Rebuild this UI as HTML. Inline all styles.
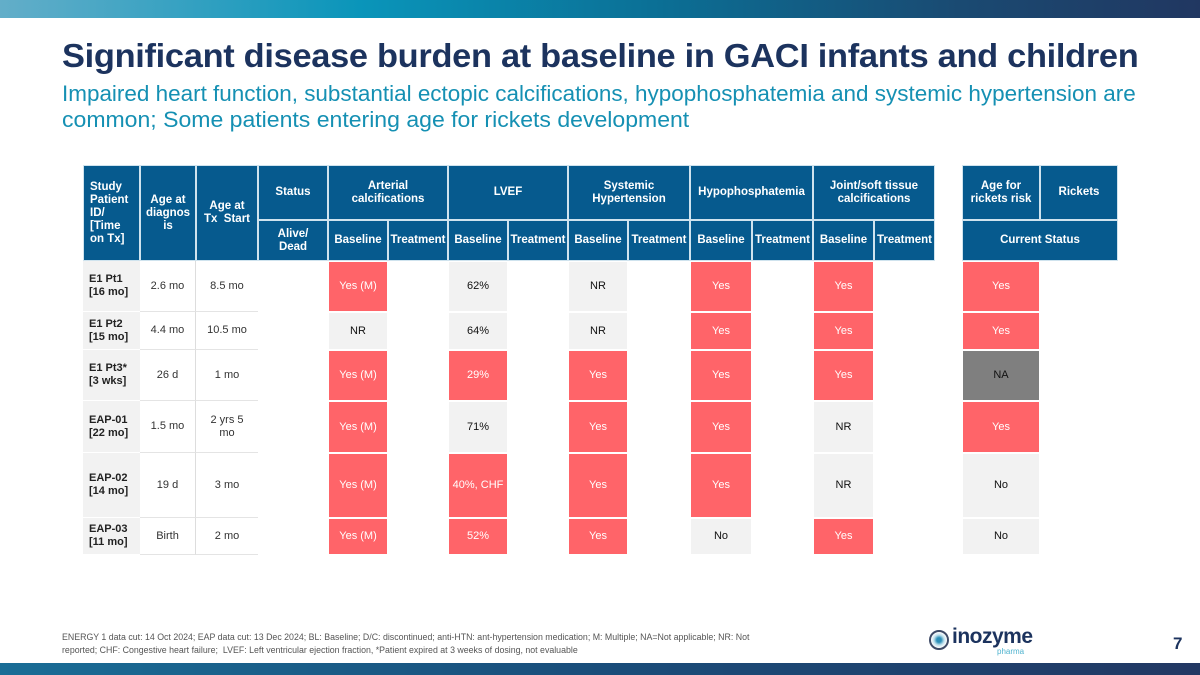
<!DOCTYPE html>
<html><head><meta charset="utf-8">
<style>
body{margin:0;width:1200px;height:675px;position:relative;overflow:hidden;background:#fff;font-family:"Liberation Sans",sans-serif}
.a{position:absolute}
.fit{white-space:nowrap;transform-origin:0 0}
.c{position:absolute;box-sizing:border-box;display:flex;align-items:center;justify-content:center;text-align:center;font-size:11px;line-height:13px}
.h{background:#065a8e;color:#fff;font-weight:bold;border:1px solid #cfe3ee;font-size:11.5px}
</style></head><body>
<div class="a" style="left:0;top:0;width:1200px;height:18px;background:linear-gradient(90deg,#63aec9 0%,#0a95ba 30%,#0b6f95 55%,#1a4a72 80%,#213761 100%)"></div>
<div class="a fit" id="title" style="left:62px;top:37px;font-size:33px;font-weight:900;color:#1c335e;letter-spacing:-0.3px">Significant disease burden at baseline in GACI infants and children</div>
<div class="a fit" id="sub1" style="left:62px;top:81px;font-size:22px;color:#1590b3">Impaired heart function, substantial ectopic calcifications, hypophosphatemia and systemic hypertension are</div>
<div class="a fit" id="sub2" style="left:62px;top:107px;font-size:22px;color:#1590b3">common; Some patients entering age for rickets development</div>
<div id="tbl"></div>
<div class="a" style="left:62px;top:631px;width:725px;font-size:8.8px;line-height:12.5px;color:#555">ENERGY 1 data cut: 14 Oct 2024; EAP data cut: 13 Dec 2024; BL: Baseline; D/C: discontinued; anti-HTN: ant-hypertension medication; M: Multiple; NA=Not applicable; NR: Not reported; CHF: Congestive heart failure;&nbsp; LVEF: Left ventricular ejection fraction, *Patient expired at 3 weeks of dosing, not evaluable</div>
<div class="a" style="left:929px;top:628px;width:120px;height:30px">
 <div class="a" style="left:0;top:2px;width:20px;height:20px;border-radius:50%;border:2px solid #3d4a66;box-sizing:border-box;background:radial-gradient(circle,#2c8fb8 20%,#bfe0ec 45%,#fff 70%)"></div>
 <div class="a" style="left:23px;top:-3px;font-size:21px;font-weight:bold;color:#1c335e;letter-spacing:-0.5px">inozyme</div>
 <div class="a" style="left:68px;top:19px;font-size:8px;color:#4fb3cf">pharma</div>
</div>
<div class="a" style="left:1173px;top:634px;font-size:17px;font-weight:bold;color:#1c335e">7</div>
<div class="a" style="left:0;top:663px;width:1200px;height:12px;background:linear-gradient(90deg,#1a6d96 0%,#1a4d7a 50%,#223863 100%)"></div>
<script>
const rowIds=["E1 Pt1<br>[16 mo]","E1 Pt2<br>[15 mo]","E1 Pt3*<br>[3 wks]","EAP-01<br>[22 mo]","EAP-02<br>[14 mo]","EAP-03<br>[11 mo]"];
const ageDiag=["2.6 mo","4.4 mo","26 d","1.5 mo","19 d","Birth"];
const ageTx=["8.5 mo","10.5 mo","1 mo","2 yrs 5<br>mo","3 mo","2 mo"];
const arterial=["Yes (M)","NR","Yes (M)","Yes (M)","Yes (M)","Yes (M)"];
const lvef=["62%","64%","29%","71%","40%, CHF","52%"];
const hypertension=["NR","NR","Yes","Yes","Yes","Yes"];
const hypophos=["Yes","Yes","Yes","Yes","Yes","No"];
const joint=["Yes","Yes","Yes","NR","NR","Yes"];
const rickets=["Yes","Yes","NA","Yes","No","No"];
const redSet={arterial:["Yes (M)"],lvef:["29%","40%, CHF","52%"],other:["Yes"]};
const X=[83,140,196,258,328,388,448,508,568,628,690,752,813,874,935];
const RX=[962,1040,1118];
const Y=[261,312,350,401,453,518,555];
const T=document.getElementById('tbl');
function cell(x,y,w,h,html,cls,style,name){
 const d=document.createElement('div');
 d.className='c '+(cls||'');
 d.style.cssText=`left:${x}px;top:${y}px;width:${w}px;height:${h}px;`+(style||'');
 d.innerHTML=html;
 
 
 T.appendChild(d);return d;
}
cell(X[0],165,X[1]-X[0],96,"Study<br>Patient<br>ID/<br>[Time<br>on Tx]","h","justify-content:flex-start;text-align:left;padding-left:6px","header-patient-id");
cell(X[1],165,X[2]-X[1],96,"Age at<br>diagnos<br>is","h","","header-age-diagnosis");
cell(X[2],165,X[3]-X[2],96,"Age at<br>Tx&nbsp; Start","h","","header-age-tx-start");
cell(X[3],165,X[4]-X[3],55,"Status","h","","header-status");
cell(X[3],220,X[4]-X[3],41,"Alive/<br>Dead","h","","header-alive-dead");
const groups=["Arterial<br>calcifications","LVEF","Systemic<br>Hypertension","Hypophosphatemia","Joint/soft tissue<br>calcifications"];
for(let g=0;g<5;g++){
 const x0=X[4+2*g],x1=X[5+2*g],x2=X[6+2*g];
 cell(x0,165,x2-x0,55,groups[g],"h","","header-group-"+g);
 cell(x0,220,x1-x0,41,"Baseline","h","","header-baseline-"+g);
 cell(x1,220,x2-x1,41,"Treatment","h","","header-treatment-"+g);
}
cell(RX[0],165,RX[1]-RX[0],55,"Age for<br>rickets risk","h","","header-age-rickets");
cell(RX[1],165,RX[2]-RX[1],55,"Rickets","h","","header-rickets");
cell(RX[0],220,RX[2]-RX[0],41,"Current Status","h","","header-current-status");
function val(x,y,w,h,v,reds,name){
 let st;
 if(v==="NA") st="background:#7f7f7f;color:#111;";
 else if(reds.includes(v)) st="background:#ff6469;color:#fff;";
 else st="background:#f2f2f2;color:#111;";
 cell(x,y,w,h,v,"",st+"border:1px solid #fff",name);
}
for(let r=0;r<6;r++){
 const y=Y[r],h=Y[r+1]-Y[r];
 cell(X[0],y,X[1]-X[0],h,rowIds[r],"","background:#f2f2f2;color:#222;font-weight:bold;justify-content:flex-start;text-align:left;padding-left:6px;border-bottom:1px solid #fff","row-id-"+r);
 cell(X[1],y,X[2]-X[1],h,ageDiag[r],"","color:#333;border-right:1px solid #ddd;border-bottom:1px solid #e4e4e4","age-diagnosis-"+r);
 cell(X[2],y,X[3]-X[2],h,ageTx[r],"","color:#333;border-bottom:1px solid #e4e4e4","age-tx-"+r);
 val(X[4],y,X[5]-X[4],h,arterial[r],redSet.arterial,"arterial-baseline-"+r);
 val(X[6],y,X[7]-X[6],h,lvef[r],redSet.lvef,"lvef-baseline-"+r);
 val(X[8],y,X[9]-X[8],h,hypertension[r],redSet.other,"hypertension-baseline-"+r);
 val(X[10],y,X[11]-X[10],h,hypophos[r],redSet.other,"hypophosphatemia-baseline-"+r);
 val(X[12],y,X[13]-X[12],h,joint[r],redSet.other,"joint-baseline-"+r);
 val(RX[0],y,RX[1]-RX[0],h,rickets[r],redSet.other,"rickets-age-"+r);
}
function fit(id,w){const e=document.getElementById(id);const s=w/e.scrollWidth;e.style.transform=`scaleX(${s})`;}
fit('title',1076);fit('sub1',1074);fit('sub2',627);
</script>
</body></html>
